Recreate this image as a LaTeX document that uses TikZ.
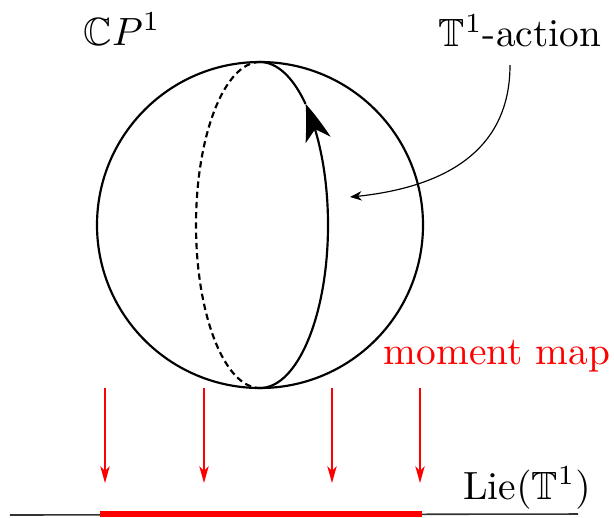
\documentclass[tikz,border=0pt]{standalone}
\usepackage{amssymb}
\usetikzlibrary{arrows.meta,bending}
\begin{document}
\begin{tikzpicture}[x=0.254pt,y=0.254pt,
  sphere/.style={line width=0.55pt},
  redarrow/.style={red,line width=0.3pt,-{Stealth[length=4.3pt,width=2.4pt,inset=1.2pt]}},
  lbl/.style={inner sep=0pt}]
\useasboundingbox (0,0) rectangle (614,517);
% sphere
\node[sphere,draw,circle,minimum size=326*0.254pt,inner sep=0pt] (S) at (260,292) {};
\coordinate (top) at (260,455);
\coordinate (bot) at (260,129);
\draw[sphere,dash pattern=on 1.6pt off 1pt] (top) arc[start angle=90,end angle=270,x radius=64,y radius=163];
\path (bot) arc[start angle=-90,end angle=48,x radius=68,y radius=163] coordinate (tipA);
\draw[sphere,-{Stealth[length=9.5pt,width=6.5pt,inset=2.6pt,bend]}]
  (bot) arc[start angle=-90,end angle=48,x radius=68,y radius=163];
\draw[sphere] (tipA) arc[start angle=48,end angle=90,x radius=68,y radius=163];
% labels
\node[lbl] (cp) at (122,488) {$\mathbb{C}P^1$};
\node[lbl] (act) at (520,486) {$\mathbb{T}^1$-action};
\node[lbl,red] (mm) at (497,161) {moment map};
\node[lbl] (lie) at (527,29) {Lie$(\mathbb{T}^1)$};
% action arrow
\coordinate (a0) at (510,452);
\coordinate (a1) at (350,320);
\draw[line width=0.3pt,-{Stealth[length=3pt,width=2.4pt]}] (a0) .. controls (510,357) and (430,327) .. (a1);
% moment map arrows
\foreach \x [count=\i] in {105,204,332,420}{
  \coordinate (r\i) at (\x,129);
  \coordinate (s\i) at (\x,34);
  \draw[redarrow] (r\i) -- (s\i);
}
% axis
\coordinate (L0) at (10,2);
\coordinate (L1) at (578,3);
\coordinate (I0) at (100,3);
\coordinate (I1) at (422,3);
\draw[line width=0.4pt,black!80] (L0) -- (L1);
\draw[red,line width=1.3pt] (I0) -- (I1);
\end{tikzpicture}
\end{document}
